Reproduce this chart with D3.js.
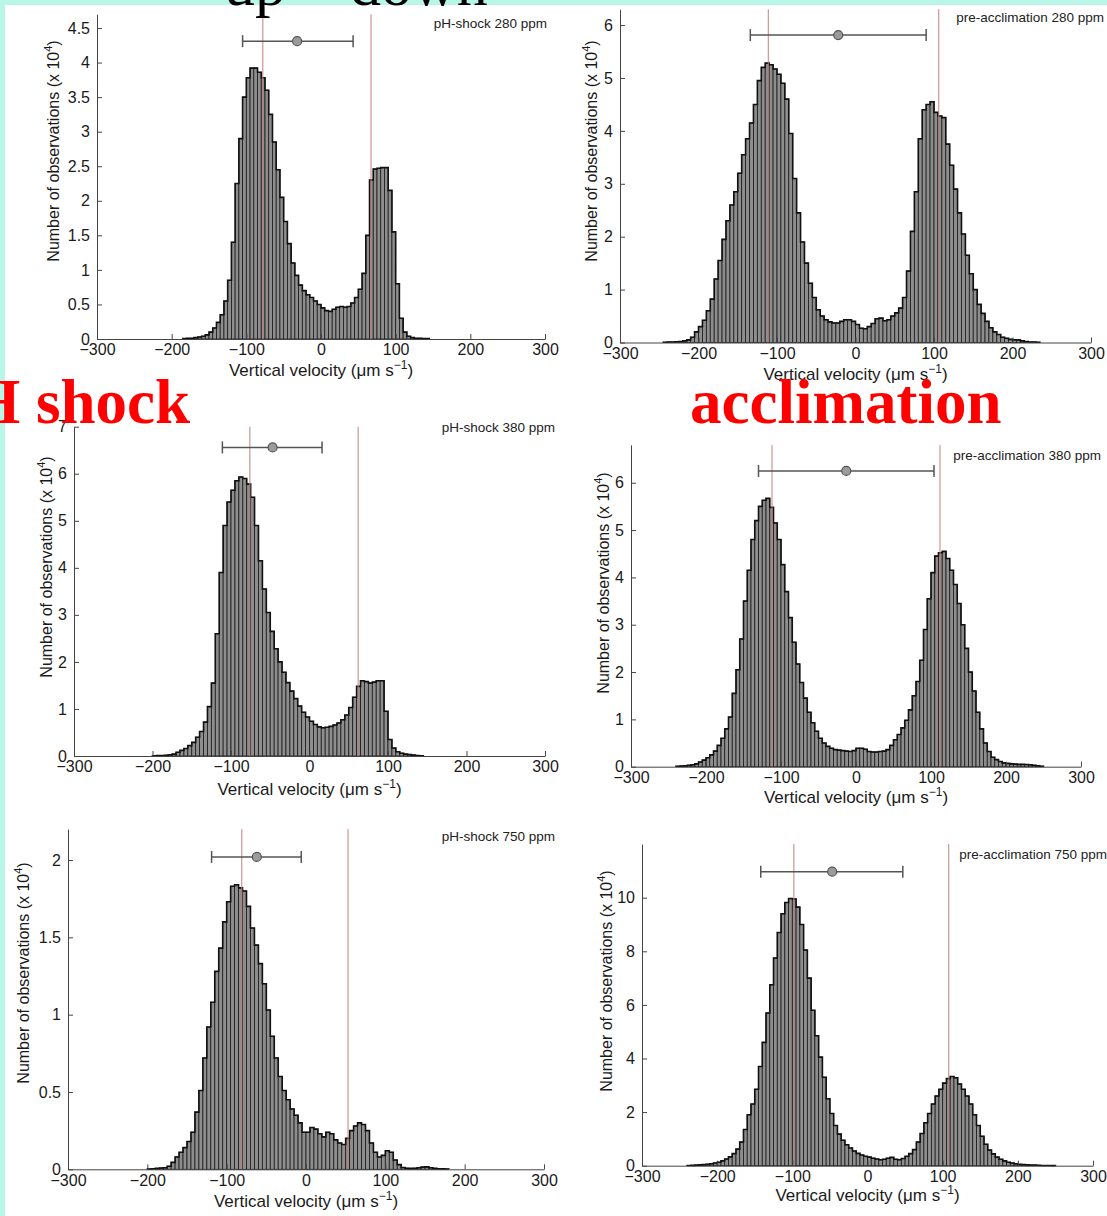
<!DOCTYPE html>
<html><head><meta charset="utf-8">
<script src="https://cdn.jsdelivr.net/npm/d3@7"></script>
<style>
body{margin:0;background:#fff;}
svg{display:block;}
</style></head><body>
<svg id="chart" width="1107" height="1216"></svg>
<script>
// ---------- data ----------
const binWidth = 5;
const xTicks = [-300,-200,-100,0,100,200,300];

// pH-shock 280 ppm (counts x 10^4), bins of 5 starting at start
const ps280Start = -185;
const ps280Counts = [0.005,0.01,0.01,0.02,0.03,0.04,0.06,0.1,0.16,0.24,0.35,
  0.55,0.85,1.4,2.25,2.9,3.5,3.78,3.92,3.92,3.86,3.78,3.6,3.25,2.85,2.45,2.05,1.7,1.38,1.1,0.92,
  0.78,0.7,0.64,0.6,0.55,0.5,0.45,0.41,0.40,0.43,0.46,0.47,0.46,0.47,0.52,0.6,0.72,0.95,1.5,2.3,
  2.46,2.47,2.48,2.48,2.15,1.55,0.8,0.3,0.1,0.04,0.02,0.01,0.01,0.005,0.005];
const ps280YTicks = [0,0.5,1,1.5,2,2.5,3,3.5,4,4.5];
const ps280Lines = [-78, 67];
const ps280Err = {lo:-105, mid:-32, hi:43, y:4.31};

// pre-acclimation 280 ppm
const pa280Start = -245;
const pa280Counts = [0.005,0.01,0.01,0.015,0.02,0.03,0.05,
  0.1,0.2,0.3,0.42,0.6,0.82,1.2,1.55,1.95,2.3,2.6,2.85,3.2,3.55,3.85,4.15,4.5,4.95,5.2,5.28,5.25,
  5.17,5.07,4.9,4.6,3.95,3.1,2.45,1.9,1.5,1.12,0.85,0.62,0.5,0.43,0.39,0.37,0.37,0.4,0.43,0.43,0.4,
  0.34,0.27,0.26,0.3,0.36,0.45,0.46,0.41,0.43,0.5,0.56,0.65,0.85,1.35,2.1,2.85,3.85,4.4,4.5,4.55,4.35,
  4.28,4.25,3.75,3.35,2.9,2.45,2.05,1.65,1.3,1.0,0.72,0.55,0.4,0.28,0.2,0.15,0.1,0.08,0.06,0.05,0.05,
  0.03,0.02,0.01,0.01,0.005];
const pa280YTicks = [0,1,2,3,4,5,6];
const pa280Lines = [-111, 106];
const pa280Err = {lo:-134, mid:-22, hi:90, y:5.81};

// pH-shock 380 ppm
const ps380Start = -200;
const ps380Counts = [0.005,0.01,0.01,0.015,0.025,0.04,0.08,0.12,0.16,0.22,0.29,0.4,0.52,0.72,1.05,1.55,2.6,3.9,4.9,5.4,
  5.65,5.85,5.93,5.9,5.78,5.5,4.9,4.15,3.55,3.05,2.65,2.28,2.0,1.78,1.56,1.38,1.22,1.06,0.93,0.83,
  0.74,0.67,0.62,0.6,0.61,0.63,0.66,0.7,0.77,0.87,1.03,1.25,1.48,1.6,1.58,1.55,1.57,1.6,1.6,0.95,
  0.35,0.17,0.09,0.06,0.04,0.03,0.02,0.01,0.005];
const ps380YTicks = [0,1,2,3,4,5,6,7];
const ps380Lines = [-76, 62];
const ps380Err = {lo:-111, mid:-47, hi:16, y:6.56};

// pre-acclimation 380 ppm
const pa380Start = -240;
const pa380Counts = [0.01,0.015,0.02,0.03,0.04,0.06,0.1,0.14,0.19,0.25,
  0.33,0.45,0.6,0.8,1.05,1.55,2.05,2.7,3.5,4.15,
  4.8,5.2,5.5,5.63,5.67,5.48,5.15,4.8,4.27,3.7,
  3.15,2.63,2.17,1.78,1.45,1.15,0.93,0.75,0.6,0.5,
  0.43,0.39,0.36,0.35,0.34,0.33,0.32,0.34,0.39,0.39,
  0.37,0.32,0.31,0.31,0.32,0.33,0.36,0.45,0.57,0.68,
  0.82,0.98,1.2,1.5,1.8,2.25,2.9,3.55,4.1,4.45,
  4.52,4.55,4.4,4.15,3.85,3.45,3.0,2.5,2.0,1.6,
  1.15,0.8,0.5,0.32,0.2,0.15,0.11,0.08,0.07,0.06,
  0.055,0.05,0.05,0.045,0.04,0.03,0.02,0.01];
const pa380YTicks = [0,1,2,3,4,5,6];
const pa380Lines = [-112, 112];
const pa380Err = {lo:-130, mid:-13, hi:104, y:6.25};

// pH-shock 750 ppm
const ps750Start = -200;
const ps750Counts = [0.002,0.004,0.006,0.008,0.01,0.02,0.045,0.08,0.11,0.14,
  0.18,0.24,0.37,0.51,0.72,0.92,1.08,1.28,1.43,1.6,
  1.73,1.83,1.84,1.82,1.8,1.7,1.56,1.45,1.33,1.2,
  1.03,0.86,0.72,0.6,0.51,0.45,0.39,0.35,0.3,0.24,
  0.24,0.27,0.26,0.23,0.21,0.24,0.23,0.19,0.17,0.16,
  0.2,0.25,0.28,0.3,0.29,0.25,0.17,0.11,0.08,0.09,
  0.12,0.11,0.06,0.03,0.012,0.007,0.006,0.007,0.01,0.014,
  0.016,0.01,0.006,0.004,0.003,0.002];
const ps750YTicks = [0,0.5,1,1.5,2];
const ps750Lines = [-81, 53];
const ps750Err = {lo:-119, mid:-62, hi:-6, y:2.02};

// pre-acclimation 750 ppm
const pa750Start = -240;
const pa750Counts = [0.01,0.012,0.02,0.03,0.04,0.055,0.07,0.1,0.13,0.18,
  0.25,0.33,0.45,0.62,0.88,1.35,1.9,2.3,2.85,3.7,
  4.6,5.7,6.75,7.75,8.7,9.4,9.82,9.97,9.95,9.65,
  9.0,8.05,7.0,5.8,4.85,4.05,3.3,2.5,1.95,1.5,
  1.18,0.95,0.78,0.66,0.55,0.46,0.4,0.35,0.32,0.28,
  0.25,0.22,0.24,0.28,0.31,0.24,0.22,0.27,0.35,0.45,
  0.6,0.88,1.2,1.6,1.95,2.3,2.6,2.85,3.08,3.25,
  3.33,3.28,3.05,2.85,2.6,2.3,1.9,1.5,1.1,0.8,
  0.58,0.44,0.32,0.24,0.18,0.13,0.1,0.07,0.05,0.04,
  0.03,0.025,0.02,0.015,0.01,0.007,0.005,0.003];
const pa750YTicks = [0,2,4,6,8,10];
const pa750Lines = [-98, 108];
const pa750Err = {lo:-142, mid:-47, hi:47, y:10.97};

const panelTitles = ["pH-shock 280 ppm","pre-acclimation 280 ppm","pH-shock 380 ppm",
                     "pre-acclimation 380 ppm","pH-shock 750 ppm","pre-acclimation 750 ppm"];
const yMaxes = [4.7, 6.3, 7, 6.8, 2.2, 12];

// ---------- layout (pixels) ----------
const layout = [
  {x0:97,  x1:545,  yb:339,    yt:14.2,  ylx:59,  yly:151, tx:547,  ty:28,  xly:376},
  {x0:620, x1:1091, yb:342.5,  yt:9.2,   ylx:597, yly:151, tx:1104, ty:22,  xly:380},
  {x0:74,  x1:545,  yb:756,    yt:426.7, ylx:52,  yly:567, tx:555,  ty:432, xly:795},
  {x0:631, x1:1081, yb:766.7,  yt:444.9, ylx:609, yly:583, tx:1101, ty:460, xly:803},
  {x0:68,  x1:544,  yb:1169.3, yt:829.1, ylx:29,  yly:973, tx:555,  ty:841, xly:1207},
  {x0:642, x1:1093, yb:1165.7, yt:844.1, ylx:612, yly:981, tx:1107, ty:859, xly:1201}
];

const panels = [
  {start:ps280Start, counts:ps280Counts, yTicks:ps280YTicks, lines:ps280Lines, err:ps280Err},
  {start:pa280Start, counts:pa280Counts, yTicks:pa280YTicks, lines:pa280Lines, err:pa280Err},
  {start:ps380Start, counts:ps380Counts, yTicks:ps380YTicks, lines:ps380Lines, err:ps380Err},
  {start:pa380Start, counts:pa380Counts, yTicks:pa380YTicks, lines:pa380Lines, err:pa380Err},
  {start:ps750Start, counts:ps750Counts, yTicks:ps750YTicks, lines:ps750Lines, err:ps750Err},
  {start:pa750Start, counts:pa750Counts, yTicks:pa750YTicks, lines:pa750Lines, err:pa750Err}
].map((p,i)=>Object.assign(p,{title:panelTitles[i], yMax:yMaxes[i]}));

// ---------- drawing ----------
const SANS = '"Liberation Sans", Arial, Helvetica, sans-serif';
const SERIF = '"Liberation Serif", "Times New Roman", Times, serif';
const svg = d3.select("#chart");
const cyan = "#b8f6e8";
svg.append("rect").attr("x",0).attr("y",0).attr("width",1107).attr("height",1216).attr("fill","#fff");
svg.append("rect").attr("x",0).attr("y",0).attr("width",1107).attr("height",5).attr("fill",cyan);
svg.append("rect").attr("x",0).attr("y",0).attr("width",5).attr("height",1216).attr("fill",cyan);

const fmtX = d => d < 0 ? "\u2212" + Math.abs(d) : String(d);

panels.forEach((p,i) => {
  const L = layout[i];
  const x = d3.scaleLinear().domain([-300,300]).range([L.x0, L.x1]);
  const y = d3.scaleLinear().domain([0,p.yMax]).range([L.yb, L.yt]);
  const g = svg.append("g");

  const bins = p.counts.map((c,k)=>({a:p.start+k*binWidth, b:p.start+(k+1)*binWidth, c}));
  g.selectAll("rect.bar").data(bins).join("rect").attr("class","bar")
    .attr("x", d=>x(d.a)).attr("width", d=>x(d.b)-x(d.a))
    .attr("y", d=>y(d.c)).attr("height", d=>y(0)-y(d.c))
    .attr("fill","#8e8e8e").attr("stroke","#1a1a1a").attr("stroke-width",0.8);

  const pts = [[p.start,0], ...bins.map(d=>[d.a,d.c]), [p.start+bins.length*binWidth,0]];
  g.append("path")
    .attr("d", d3.line().x(d=>x(d[0])).y(d=>y(d[1])).curve(d3.curveStepAfter)(pts))
    .attr("fill","none").attr("stroke","#111").attr("stroke-width",1.6);

  // reference (mean) lines
  g.selectAll("line.ref").data(p.lines).join("line").attr("class","ref")
    .attr("x1",d=>x(d)).attr("x2",d=>x(d)).attr("y1",y(0)).attr("y2",y(p.yMax))
    .attr("stroke","rgba(190,125,125,0.75)").attr("stroke-width",1.3);

  // error bar
  const e = p.err;
  const eg = g.append("g").attr("stroke","#555").attr("stroke-width",1.5);
  eg.append("line").attr("x1",x(e.lo)).attr("x2",x(e.hi)).attr("y1",y(e.y)).attr("y2",y(e.y));
  [e.lo,e.hi].forEach(v=>eg.append("line").attr("x1",x(v)).attr("x2",x(v)).attr("y1",y(e.y)-6).attr("y2",y(e.y)+6));
  eg.append("circle").attr("cx",x(e.mid)).attr("cy",y(e.y)).attr("r",4.5).attr("fill","#9b9b9b").attr("stroke-width",1.2);

  // axes
  const ax = g.append("g").attr("transform",`translate(0,${L.yb})`)
    .call(d3.axisBottom(x).tickValues(xTicks).tickSizeInner(-5).tickSizeOuter(0).tickPadding(5).tickFormat(fmtX));
  const ay = g.append("g").attr("transform",`translate(${L.x0},0)`)
    .call(d3.axisLeft(y).tickValues(p.yTicks).tickSizeInner(-5).tickSizeOuter(0).tickPadding(7).tickFormat(d=>String(d)));
  [ax,ay].forEach(a=>{
    a.attr("font-size",16).attr("font-family",SANS);
    a.selectAll("path,line").attr("stroke","#444").attr("stroke-width",1);
    a.selectAll("text").attr("fill","#1a1a1a");
  });

  // title
  g.append("text").attr("x",L.tx).attr("y",L.ty).attr("text-anchor","end")
    .attr("font-family",SANS).attr("font-size",13.5).attr("fill","#222").text(p.title);

  // x label
  const xl = g.append("text").attr("x",(L.x0+L.x1)/2).attr("y",L.xly).attr("text-anchor","middle")
    .attr("font-family",SANS).attr("font-size",17).attr("fill","#1a1a1a");
  xl.append("tspan").text("Vertical velocity (\u03bcm s");
  xl.append("tspan").attr("dy",-7).attr("font-size",12).text("\u22121");
  xl.append("tspan").attr("dy",7).text(")");

  // y label
  const yl = g.append("text").attr("transform",`translate(${L.ylx},${L.yly}) rotate(-90)`)
    .attr("text-anchor","middle").attr("font-family",SANS).attr("font-size",16).attr("fill","#1a1a1a");
  yl.append("tspan").text("Number of observations (x 10");
  yl.append("tspan").attr("dy",-7).attr("font-size",11).text("4");
  yl.append("tspan").attr("dy",7).text(")");
});

// big annotation texts
svg.append("text").attr("x",224).attr("y",5).attr("font-family",SERIF).attr("font-size",62).attr("fill","#000").text("up");
svg.append("text").attr("x",350).attr("y",5).attr("font-family",SERIF).attr("font-size",62).attr("fill","#000").text("down");
svg.append("text").attr("x",190).attr("y",423).attr("text-anchor","end").attr("font-family",SERIF)
  .attr("font-weight","bold").attr("font-size",63).attr("fill","#ff0000").text("pH shock");
svg.append("text").attr("x",690).attr("y",423).attr("font-family",SERIF)
  .attr("font-weight","bold").attr("font-size",63).attr("fill","#ff0000").text("acclimation");
</script>
</body></html>
